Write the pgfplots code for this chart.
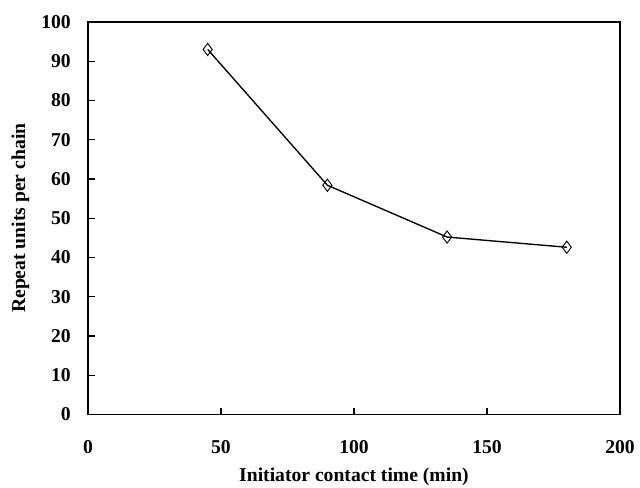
\documentclass[border=0pt]{standalone}
\usepackage{pgfplots}
\pgfplotsset{compat=1.18}
\usepackage{fontspec}
\setmainfont{Liberation Serif}
\begin{document}
\fontsize{14.5}{17}\selectfont\bfseries
\begin{tikzpicture}
  \begin{axis}[
      name=ax,
      width=393pt, height=290pt,
      scale only axis,
      xmin=0, xmax=200, ymin=0, ymax=100,
      xtick={0,50,...,200}, ytick={0,10,...,100},
      axis line style={line width=1.1pt},
      tick style={line width=0.9pt, black},
      tick align=inside,
      xtick pos=bottom, ytick pos=left,
      major tick length=5pt,
      /pgf/number format/assume math mode=true,
      ticklabel style={font=\fontsize{14.5}{17}\selectfont\bfseries},
      label style={font=\fontsize{14.5}{17}\selectfont\bfseries},
      xticklabel style={anchor=center, yshift=-24.4pt},
      yticklabel style={anchor=east, inner sep=0pt, xshift=-12.5pt},
      xlabel={Initiator contact time (min)},
      ylabel={Repeat units per chain},
      xlabel style={at={(axis description cs:0.5,-0.158)}, anchor=center},
      ylabel style={at={(axis description cs:-0.127,0.5)}, anchor=center, rotate=0},
    ]
    \addplot[black, line width=1pt, mark=diamond, mark size=4.5pt,
             mark options={fill=white, line width=0.7pt}]
      coordinates {(45,93.0) (90,58.4) (135,45.2) (180,42.6)};
  \end{axis}
  \pgfresetboundingbox
  \path[use as bounding box] ([shift={(-65pt,-53.9pt)}]ax.south west)
    rectangle ([shift={(14.8pt,16.2pt)}]ax.north east);
\end{tikzpicture}
\end{document}
